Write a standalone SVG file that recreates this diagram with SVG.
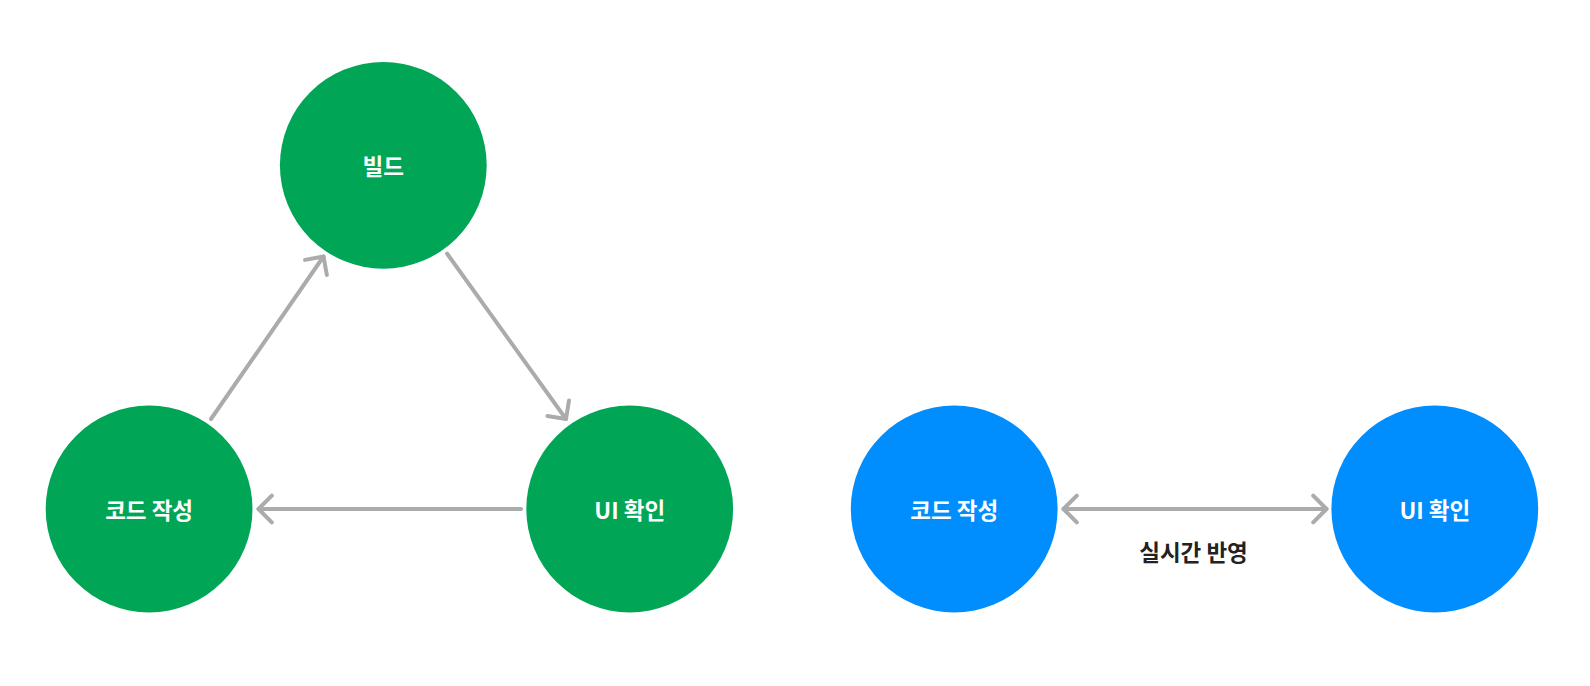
<svg xmlns="http://www.w3.org/2000/svg" width="1590" height="686" viewBox="0 0 1590 686">
<style>
.g{fill:#00A556}
.b{fill:#008DFD}
.t{font-family:"Noto Sans CJK KR","Noto Sans",sans-serif;font-weight:700;font-size:22.5px;fill:#fff;text-anchor:middle;dominant-baseline:central}
.lbl{font-family:"Noto Sans CJK KR","Noto Sans",sans-serif;font-weight:700;font-size:22.5px;fill:#222;text-anchor:middle;dominant-baseline:central}
.c{stroke:#ABABAB;stroke-width:4;stroke-linecap:round;fill:none}
</style>
<defs>
<marker id="ah" markerUnits="userSpaceOnUse" orient="auto-start-reverse" refX="0" refY="0" markerWidth="30" markerHeight="30" overflow="visible">
<path d="M-13.3,-13.3 L0,0 L-13.3,13.3" fill="none" stroke="#ABABAB" stroke-width="4" stroke-linecap="round" stroke-linejoin="round"/>
</marker>
</defs>
<rect width="1590" height="686" fill="#fff"/>
<g id="connectors">
<line class="c" x1="211" y1="419" x2="323.5" y2="256.5" marker-end="url(#ah)"/>
<line class="c" x1="447" y1="253.5" x2="566" y2="419" marker-end="url(#ah)"/>
<line class="c" x1="521" y1="509" x2="258.5" y2="509" marker-end="url(#ah)"/>
<line class="c" x1="1063.5" y1="509" x2="1326.5" y2="509" marker-start="url(#ah)" marker-end="url(#ah)"/>
<text class="lbl" x="1193.5" y="551">실시간 반영</text>
</g>
<g id="build">
<circle class="g" cx="383.3" cy="165.3" r="103.4"/>
<text class="t" x="383.3" y="165.3">빌드</text>
</g>
<g id="code1">
<circle class="g" cx="149.1" cy="509" r="103.4"/>
<text class="t" x="149.1" y="509">코드 작성</text>
</g>
<g id="ui1">
<circle class="g" cx="629.7" cy="509" r="103.4"/>
<text class="t" x="629.7" y="509">UI 확인</text>
</g>
<g id="code2">
<circle class="b" cx="954.2" cy="509" r="103.4"/>
<text class="t" x="954.2" y="509">코드 작성</text>
</g>
<g id="ui2">
<circle class="b" cx="1434.8" cy="509" r="103.4"/>
<text class="t" x="1434.8" y="509">UI 확인</text>
</g>
</svg>
